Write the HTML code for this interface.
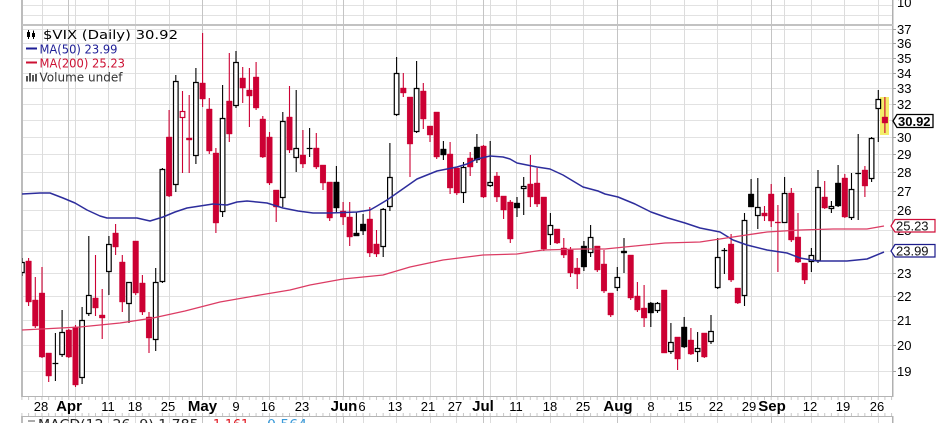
<!DOCTYPE html>
<html><head><meta charset="utf-8">
<style>html,body{margin:0;padding:0;background:#fff;overflow:hidden}svg{display:block}</style>
</head><body>
<svg xmlns="http://www.w3.org/2000/svg" width="936" height="423" viewBox="0 0 936 423">
<rect width="936" height="423" fill="#fff"/>
<defs><clipPath id="pc"><rect x="22" y="26" width="871" height="370"/></clipPath></defs>

<!-- horizontal gridlines -->
<path fill="none" stroke="#e2e2e2" stroke-width="1" d="M22 29.5H893M22 43.5H893M22 58.5H893M22 73.5H893M22 88.5H893M22 104.5H893M22 120.5H893M22 137.5H893M22 154.5H893M22 172.5H893M22 191.5H893M22 210.5H893M22 230.5H893M22 251.5H893M22 273.5H893M22 296.5H893M22 320.5H893M22 345.5H893M22 371.5H893M22 5.5H893M22 15.5H893"/>
<!-- weekly vertical gridlines -->
<path fill="none" stroke="#dcdcdc" stroke-width="1" d="M42.5 0V423M75.5 0V423M108.5 0V423M135.5 0V423M169.5 0V423M236.5 0V423M269.5 0V423M302.5 0V423M336.5 0V423M363.5 0V423M396.5 0V423M430.5 0V423M456.5 0V423M490.5 0V423M516.5 0V423M550.5 0V423M583.5 0V423M650.5 0V423M684.5 0V423M717.5 0V423M751.5 0V423M784.5 0V423M811.5 0V423M844.5 0V423M878.5 0V423"/>
<!-- month gridlines -->
<path fill="none" stroke="#c4c4c4" stroke-width="1" d="M68.5 0V423M202.5 0V423M343.5 0V423M483.5 0V423M617.5 0V423M771.5 0V423"/>

<!-- x-axis strip -->
<rect x="0" y="397" width="936" height="19" fill="#fff"/>

<!-- borders -->
<rect x="21" y="0" width="2" height="397" fill="#bcbcbc"/>
<rect x="21" y="416" width="2" height="7" fill="#bcbcbc"/>
<rect x="892" y="0" width="1.5" height="397" fill="#b0b0b0"/>
<rect x="892" y="416" width="1.5" height="7" fill="#b0b0b0"/>
<rect x="22" y="24" width="871" height="2" fill="#c2c2c2"/>
<rect x="22" y="396" width="871" height="1" fill="#b4b4b4"/>
<rect x="22" y="416" width="871" height="1" fill="#b4b4b4"/>
<line x1="21.4" y1="398.5" x2="893" y2="398.5" stroke="#c8c8c8" stroke-width="3" stroke-dasharray="1 5.69"/>
<line x1="21.4" y1="414.5" x2="893" y2="414.5" stroke="#c8c8c8" stroke-width="3" stroke-dasharray="1 5.69"/>
<!-- right axis ticks -->
<path fill="none" stroke="#a0a0a0" stroke-width="1" d="M893 29.5h3M893 43.5h3M893 58.5h3M893 73.5h3M893 88.5h3M893 104.5h3M893 120.5h3M893 137.5h3M893 154.5h3M893 172.5h3M893 191.5h3M893 210.5h3M893 230.5h3M893 251.5h3M893 273.5h3M893 296.5h3M893 320.5h3M893 345.5h3M893 371.5h3"/>

<!-- yellow highlight for last candle -->
<rect x="880" y="97" width="9" height="38" fill="#f3ee6a"/>

<g clip-path="url(#pc)">
<!-- black wicks -->
<path fill="none" stroke="#000" stroke-width="1.1" d="M336.4 166V212M356.4 212V236M363.1 214V235M443.4 141V160M476.9 134V163M517 197V217M583.9 241V271M624 238V273M650.8 302V327M684.2 317V348M751.1 179V207M838.1 165V207M55.4 333V381M309.6 128V157M724.4 248V274M858.2 134V220M21.9 258V276M62.1 310V357M82.1 307V384M88.8 236V316M108.9 236V295M129 282V323M155.7 268V351M162.4 168V283M175.8 75V192M195.9 68V164M222.6 85V217M236 51V108M282.8 112V207M296.2 90V172M383.2 208V257M389.9 143V211M396.6 57V116M416.6 61V133M463.5 162V203M490.2 141V187M523.7 177V215M550.4 213V245M590.6 225V257M617.3 267V291M657.5 302V313M670.9 323V354M697.6 332V362M711 315V344M717.7 238V289M744.5 213V306M757.8 178V229M784.6 177V223M811.4 248V272M818 170V263M831.4 201V213M851.5 173V220M871.6 137V182M878.3 90V142"/>
<!-- black cross bars -->
<path fill="none" stroke="#000" stroke-width="1.3" d="M52.5 363.5h5.8M306.7 148.5h5.8M721.5 250.5h5.8M855.3 173.5h5.8"/>
<!-- black filled bodies -->
<path fill="#000" stroke="#000" stroke-width="0.4" d="M333.6 182h5.6V208h-5.6zM353.6 233h5.6V236h-5.6zM360.3 224h5.6V231h-5.6zM440.6 149h5.6V155h-5.6zM474.1 147h5.6V160h-5.6zM514.2 203h5.6V208h-5.6zM581.1 246h5.6V267h-5.6zM621.2 251h5.6V253h-5.6zM648 303h5.6V313h-5.6zM681.4 327h5.6V347h-5.6zM748.3 194h5.6V207h-5.6zM835.3 183h5.6V206h-5.6z"/>
<!-- white (hollow) bodies -->
<path fill="#fff" stroke="#000" stroke-width="1.2" d="M19.6 262.5h4.6v10h-4.6zM59.8 332.5h4.6v22h-4.6zM79.8 320.5h4.6v57h-4.6zM86.5 295.5h4.6v18h-4.6zM106.6 244.5h4.6v27h-4.6zM126.7 282.5h4.6v21h-4.6zM153.4 282.5h4.6v57h-4.6zM160.1 169.5h4.6v112h-4.6zM173.5 81.5h4.6v103h-4.6zM193.6 82.5h4.6v73h-4.6zM220.3 118.5h4.6v93h-4.6zM233.7 62.5h4.6v43h-4.6zM280.5 121.5h4.6v76h-4.6zM293.9 148.5h4.6v9h-4.6zM380.9 209.5h4.6v37h-4.6zM387.6 177.5h4.6v29h-4.6zM394.3 73.5h4.6v41h-4.6zM414.3 88.5h4.6v43h-4.6zM461.2 167.5h4.6v25h-4.6zM487.9 182.5h4.6v3h-4.6zM521.4 186.5h4.6v2h-4.6zM548.1 225.5h4.6v9h-4.6zM588.3 237.5h4.6v15h-4.6zM615 277.5h4.6v10h-4.6zM655.2 303.5h4.6v7h-4.6zM668.6 342.5h4.6v9h-4.6zM695.3 348.5h4.6v3h-4.6zM708.7 331.5h4.6v10h-4.6zM715.4 257.5h4.6v30h-4.6zM742.2 220.5h4.6v75h-4.6zM755.5 207.5h4.6v8h-4.6zM782.3 193.5h4.6v29h-4.6zM809.1 255.5h4.6v6h-4.6zM815.7 187.5h4.6v73h-4.6zM829.1 206.5h4.6v2h-4.6zM849.2 189.5h4.6v28h-4.6zM869.3 138.5h4.6v40h-4.6zM876 99.5h4.6v9h-4.6z"/>
<!-- red wicks -->
<path fill="none" stroke="#cc0033" stroke-width="1.1" d="M28.6 258V306M35.3 277V328M42 267V358M48.7 353V382M68.8 329V358M75.5 325V387M95.5 255V316M102.2 289V339M115.6 224V255M122.3 255V312M135.7 241V295M142.4 275V315M149 312V353M169.1 110V197M189.2 95V173M202.6 33V107M209.3 98V154M215.9 148V233M229.3 53V142M242.7 67V103M249.4 68V127M256.1 62V110M262.8 116V158M269.5 132V185M276.2 190V222M289.5 86V153M302.9 130V168M316.3 133V169M323 165V190M329.7 182V221M343.1 202V225M349.7 202V246M369.8 207V257M376.5 230V257M403.3 73V97M410 97V177M423.3 83V129M430 126V142M436.7 112V159M450.1 142V194M456.8 168V195M470.2 152V176M483.5 145V198M496.9 172V202M503.6 196V219M510.3 200V243M530.4 155V207M537.1 168V207M543.8 197V251M557.1 229V244M563.8 238V258M570.5 247V277M577.2 258V289M597.3 246V272M604 250V293M610.7 293V317M630.7 255V300M637.4 282V312M644.1 285V327M664.2 290V353M677.6 337V370M690.9 328V355M704.3 333V358M731.1 234V282M737.8 288V304M764.5 206V221M771.2 184V227M791.3 188V242M798 213V263M804.7 263V284M824.7 181V209M844.8 174V218M864.9 166V197M884.9 97V133M777.9 205V272M182.5 91V173"/>
<path fill="none" stroke="#cc0033" stroke-width="1.3" d="M775 222.5h5.8"/>
<!-- red filled bodies -->
<path fill="#cc0033" stroke="#cc0033" stroke-width="0.4" d="M25.8 261h5.6V302h-5.6zM32.5 300h5.6V326h-5.6zM39.2 293h5.6V357h-5.6zM45.9 353h5.6V376h-5.6zM66 330h5.6V357h-5.6zM72.7 327h5.6V385h-5.6zM92.7 298h5.6V308h-5.6zM99.4 315h5.6V318h-5.6zM112.8 233h5.6V247h-5.6zM119.5 262h5.6V302h-5.6zM132.9 241h5.6V293h-5.6zM139.6 283h5.6V312h-5.6zM146.2 317h5.6V338h-5.6zM166.3 137h5.6V196h-5.6zM186.4 138h5.6V140h-5.6zM199.8 83h5.6V99h-5.6zM206.5 109h5.6V151h-5.6zM213.1 153h5.6V223h-5.6zM226.5 101h5.6V134h-5.6zM239.9 78h5.6V88h-5.6zM246.6 90h5.6V96h-5.6zM253.3 77h5.6V108h-5.6zM260 119h5.6V157h-5.6zM266.7 137h5.6V183h-5.6zM273.4 190h5.6V207h-5.6zM286.7 117h5.6V150h-5.6zM300.1 155h5.6V164h-5.6zM313.5 148h5.6V167h-5.6zM320.2 165h5.6V183h-5.6zM326.9 182h5.6V218h-5.6zM340.3 211h5.6V217h-5.6zM346.9 217h5.6V237h-5.6zM367 219h5.6V253h-5.6zM373.7 244h5.6V254h-5.6zM400.5 88h5.6V93h-5.6zM407.2 97h5.6V144h-5.6zM420.5 91h5.6V119h-5.6zM427.2 126h5.6V135h-5.6zM433.9 112h5.6V157h-5.6zM447.3 154h5.6V188h-5.6zM454 168h5.6V193h-5.6zM467.4 158h5.6V167h-5.6zM480.7 146h5.6V197h-5.6zM494.1 176h5.6V197h-5.6zM500.8 196h5.6V210h-5.6zM507.5 202h5.6V239h-5.6zM527.6 184h5.6V197h-5.6zM534.3 183h5.6V204h-5.6zM541 197h5.6V249h-5.6zM554.3 229h5.6V243h-5.6zM561 248h5.6V255h-5.6zM567.7 250h5.6V273h-5.6zM574.4 268h5.6V274h-5.6zM594.5 246h5.6V270h-5.6zM601.2 264h5.6V291h-5.6zM607.9 293h5.6V315h-5.6zM627.9 255h5.6V298h-5.6zM634.6 296h5.6V310h-5.6zM641.3 308h5.6V318h-5.6zM661.4 290h5.6V353h-5.6zM674.8 337h5.6V359h-5.6zM688.1 340h5.6V354h-5.6zM701.5 333h5.6V357h-5.6zM728.3 244h5.6V280h-5.6zM735 288h5.6V303h-5.6zM761.7 213h5.6V216h-5.6zM768.4 194h5.6V221h-5.6zM788.5 193h5.6V240h-5.6zM795.2 237h5.6V262h-5.6zM801.9 263h5.6V280h-5.6zM821.9 197h5.6V208h-5.6zM842 178h5.6V217h-5.6zM862.1 170h5.6V186h-5.6zM882.1 117h5.6V123h-5.6z"/>
<rect x="180.2" y="111.5" width="4.6" height="6" fill="#fff" stroke="#cc0033" stroke-width="1.2"/>

<!-- moving averages -->
<polyline fill="none" stroke="#2d2d9c" stroke-width="1.5" stroke-linejoin="round" points="22,194 40,193 50,193 63,198 75,203 87,210 100,216 107,218 120,218 137,218 150,221 163,217 175,212 187,208 200,206 213,204 227,205 237,202 247,201 257,202 267,203 283,208 298,211 313,213 330,213 357,212 370,210 377,206 387,200 397,193 407,186 417,179 427,175 437,171 447,169 457,167 467,164 477,159 490,156 503,157 510,159 517,163 527,165 537,167 550,169 563,175 573,181 583,187 598,191 605,194 618,197 635,204 651,212 668,218 685,223 700,228 720,232 733,240 747,245 767,250 787,253 800,258 817,261 847,261 867,259 884,252"/>
<polyline fill="none" stroke="#dc3c64" stroke-width="1.3" stroke-linejoin="round" points="22,330 80,327 120,323 153,318 185,311 220,302 260,295 290,290 310,285 343,279 383,275 410,267 443,260 483,255 517,254 543,250 580,249 605,249 665,243 700,242 733,237 767,232 800,230 833,229 867,229 884,226"/>
</g>

<!-- right axis labels -->
<g font-family="'Liberation Sans', Arial, sans-serif" font-size="13" fill="#000">
<text x="897" y="7">10</text>
<text x="897" y="34">37</text>
<text x="897" y="48">36</text>
<text x="897" y="63">35</text>
<text x="897" y="78">34</text>
<text x="897" y="93">33</text>
<text x="897" y="109">32</text>
<text x="897" y="142">30</text>
<text x="897" y="159">29</text>
<text x="897" y="177">28</text>
<text x="897" y="196">27</text>
<text x="897" y="215">26</text>
<text x="897" y="235">25</text>
<text x="897" y="278">23</text>
<text x="897" y="301">22</text>
<text x="897" y="325">21</text>
<text x="897" y="350">20</text>
<text x="897" y="376">19</text>
</g>

<!-- value boxes -->
<path d="M891 226L895 219.5H935V232H895Z" fill="#fff" stroke="#d0103a" stroke-width="1.2"/>
<text x="896" y="230.5" font-family="'Liberation Sans', Arial, sans-serif" font-size="13" fill="#111">25.23</text>
<path d="M891 251L895 244.5H935V257H895Z" fill="#fff" stroke="#1c1c8c" stroke-width="1.2"/>
<text x="896" y="255.5" font-family="'Liberation Sans', Arial, sans-serif" font-size="13" fill="#111">23.99</text>
<path d="M893 121L897 114.5H933V127.5H897Z" fill="#fff" stroke="#000" stroke-width="1.3"/>
<text x="898" y="126" font-family="'Liberation Sans', Arial, sans-serif" font-size="13" font-weight="bold" fill="#000">30.92</text>

<!-- x axis labels -->
<g font-family="'Liberation Sans', Arial, sans-serif" font-size="13" fill="#000" text-anchor="middle">
<text x="41" y="411">28</text>
<text x="108" y="411">11</text>
<text x="135" y="411">18</text>
<text x="168" y="411">25</text>
<text x="236" y="411">9</text>
<text x="268" y="411">16</text>
<text x="302" y="411">23</text>
<text x="362" y="411">6</text>
<text x="395" y="411">13</text>
<text x="428" y="411">21</text>
<text x="455" y="411">27</text>
<text x="516" y="411">11</text>
<text x="550" y="411">18</text>
<text x="583" y="411">25</text>
<text x="651" y="411">8</text>
<text x="685" y="411">15</text>
<text x="716" y="411">22</text>
<text x="749" y="411">29</text>
<text x="810" y="411">12</text>
<text x="843" y="411">19</text>
<text x="877" y="411">26</text>
</g>
<g font-family="'Liberation Sans', Arial, sans-serif" font-size="15" font-weight="bold" fill="#000" text-anchor="middle">
<text x="69" y="411">Apr</text>
<text x="202.5" y="411">May</text>
<text x="344" y="411">Jun</text>
<text x="483" y="411">Jul</text>
<text x="618" y="411">Aug</text>
<text x="772" y="411">Sep</text>
</g>

<!-- legend -->
<g>
<path d="M28.5 30V39M33.5 30.5V39" stroke="#000" stroke-width="1"/>
<rect x="27" y="32" width="3" height="5" fill="#000"/>
<rect x="32" y="33" width="3" height="4" fill="#000"/>
<rect x="26" y="47.5" width="11" height="2" fill="#1e1e96"/>
<rect x="26" y="61.5" width="11" height="2" fill="#cc1133"/>
<rect x="26" y="76" width="2" height="5.5" fill="#555"/>
<rect x="29" y="73" width="2" height="8.5" fill="#555"/>
<rect x="32" y="75" width="2" height="6.5" fill="#555"/>
<rect x="35" y="74" width="2" height="7.5" fill="#555"/>
</g>
<g font-family="'DejaVu Sans', Verdana, sans-serif" font-size="12">
<text x="43" y="39" fill="#000" textLength="135" lengthAdjust="spacingAndGlyphs">$VIX (Daily) 30.92</text>
<text x="39.5" y="53.3" fill="#1e1e96" textLength="78" lengthAdjust="spacingAndGlyphs">MA(50) 23.99</text>
<text x="39.5" y="67.3" fill="#cc1133" textLength="85.5" lengthAdjust="spacingAndGlyphs">MA(200) 25.23</text>
<text x="39.5" y="81.5" fill="#333" textLength="83" lengthAdjust="spacingAndGlyphs">Volume undef</text>
</g>

<!-- MACD panel header (mostly cut off) -->
<rect x="28" y="420" width="7" height="2" fill="#aaa"/>
<g font-family="'DejaVu Sans', Verdana, sans-serif" font-size="13">
<text x="38" y="429" fill="#222" textLength="165" lengthAdjust="spacingAndGlyphs">MACD(12, 26, 9) 1.785,</text>
<text x="213" y="429" fill="#e0141e" textLength="40" lengthAdjust="spacingAndGlyphs">1.161,</text>
<text x="267" y="429" fill="#3a9ad9" textLength="40" lengthAdjust="spacingAndGlyphs">0.564</text>
</g>
</svg>
</body></html>
